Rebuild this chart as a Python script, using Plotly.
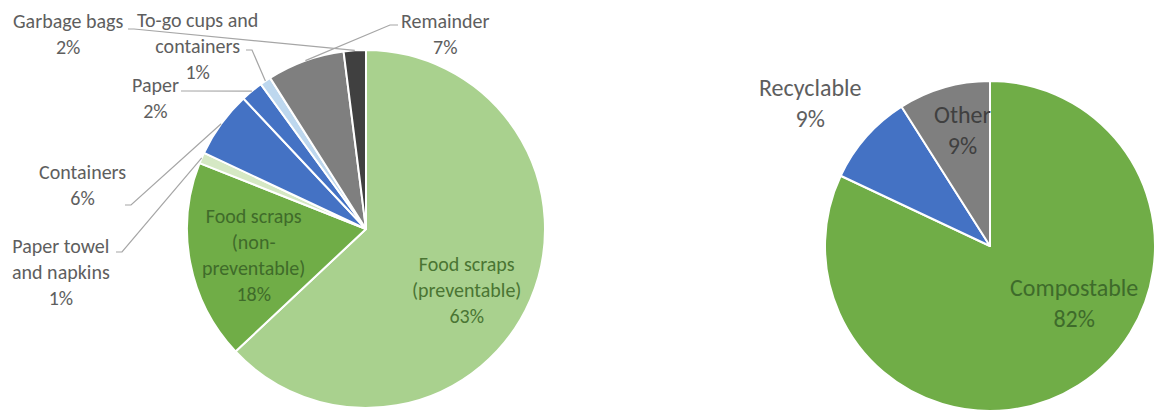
import math
import plotly.graph_objects as go

# Canvas size in pixels
W, H = 1155, 416

# ---- data -------------------------------------------------------------
waste_labels = ["Food scraps (preventable)", "Food scraps (non-preventable)",
                "Paper towel and napkins", "Containers", "Paper",
                "To-go cups and containers", "Remainder", "Garbage bags"]
waste_text = ["Food scraps<br>(preventable)", "Food scraps<br>(non-<br>preventable)",
              "Paper towel<br>and napkins", "Containers", "Paper",
              "To-go cups and<br>containers", "Remainder", "Garbage bags"]
waste_pct = [63, 18, 1, 6, 2, 1, 7, 2]

stream_labels = ["Compostable", "Recyclable", "Other"]
stream_pct = [82, 9, 9]

# ---- styling ----------------------------------------------------------
waste_colors = ["#A9D18E", "#70AD47", "#D5E8C4", "#4472C4", "#4472C4",
                "#BDD7EE", "#7F7F7F", "#404040"]
stream_colors = ["#70AD47", "#4472C4", "#7F7F7F"]

FONT = "Carlito, Calibri, Lato, sans-serif"
OUT_GRAY = "#5E5E5E"
LINE_GRAY = "#A6A6A6"

# pie geometry (pixel centre and radius)
LEFT = dict(cx=366, cy=229, r=179)
RIGHT = dict(cx=990, cy=246, r=165)


def domain(g):
    x0 = max(0.0, (g["cx"] - g["r"]) / W)
    x1 = min(1.0, (g["cx"] + g["r"]) / W)
    y0 = max(0.0, 1 - (g["cy"] + g["r"]) / H)
    y1 = min(1.0, 1 - (g["cy"] - g["r"]) / H)
    return dict(x=[x0, x1], y=[y0, y1])


def px(x, y):
    return x / W, 1 - y / H


def slice_edge(g, values, i, frac_r=1.0):
    """Point on the rim at the middle of slice i (clockwise from 12 o'clock)."""
    tot = sum(values)
    mid = (sum(values[:i]) + values[i] / 2) / tot
    th = 2 * math.pi * mid
    return (g["cx"] + frac_r * g["r"] * math.sin(th),
            g["cy"] - frac_r * g["r"] * math.cos(th))


fig = go.Figure()
fig.add_trace(go.Pie(
    labels=waste_labels, values=waste_pct, sort=False, direction="clockwise",
    rotation=0, textinfo="none", hoverinfo="label+percent",
    marker=dict(colors=waste_colors, line=dict(color="white", width=2)),
    domain=domain(LEFT), showlegend=False,
))
fig.add_trace(go.Pie(
    labels=stream_labels, values=stream_pct, sort=False, direction="clockwise",
    rotation=0, textinfo="none", hoverinfo="label+percent",
    marker=dict(colors=stream_colors, line=dict(color="white", width=2)),
    domain=domain(RIGHT), showlegend=False,
))

# ---- labels -------------------------------------------------------------
left_label_pos = [(466, 290), (253, 255), (61, 272), (82, 185),
                  (155, 98), (197, 46), (445, 34), (68, 34)]
left_label_color = ["#4A7533", "#3F6B2A", OUT_GRAY, OUT_GRAY,
                    OUT_GRAY, OUT_GRAY, OUT_GRAY, OUT_GRAY]
right_label_pos = [(1074, 303), (810, 103), (962, 130)]
right_label_color = ["#3E6B2B", OUT_GRAY, "#404040"]

annotations = []
for txt, v, (x, y), c in zip(waste_text, waste_pct, left_label_pos, left_label_color):
    ax, ay = px(x, y)
    annotations.append(dict(
        text=f"{txt}<br>{v}%", x=ax, y=ay, xref="paper", yref="paper",
        xanchor="center", yanchor="middle", showarrow=False, align="center",
        font=dict(family=FONT, size=20, color=c)))
for txt, v, (x, y), c in zip(stream_labels, stream_pct, right_label_pos, right_label_color):
    ax, ay = px(x, y)
    annotations.append(dict(
        text=f"{txt}<br>{v}%", x=ax, y=ay, xref="paper", yref="paper",
        xanchor="center", yanchor="middle", showarrow=False, align="center",
        font=dict(family=FONT, size=24, color=c)))

# leader lines: label anchor -> short horizontal stub -> rim of slice
leader_start = {2: (116, 252, 6), 3: (125, 205, 6), 4: (181, 91, 6),
                5: (246, 50, 6), 6: (398, 25, -8), 7: (128, 29, 6)}
shapes = []
for i, (sx, sy, stub) in leader_start.items():
    ex, ey = slice_edge(LEFT, waste_pct, i)
    p0 = px(sx, sy)
    p1 = px(sx + stub, sy)
    p2 = px(ex, ey)
    shapes.append(dict(
        type="path", xref="paper", yref="paper",
        path=f"M {p0[0]} {p0[1]} L {p1[0]} {p1[1]} L {p2[0]} {p2[1]}",
        line=dict(color=LINE_GRAY, width=1.2)))

fig.update_layout(
    width=W, height=H, autosize=False,
    margin=dict(l=0, r=0, t=0, b=0),
    paper_bgcolor="white", plot_bgcolor="white",
    annotations=annotations, shapes=shapes,
    font=dict(family=FONT),
)

fig.write_html("out.html")
